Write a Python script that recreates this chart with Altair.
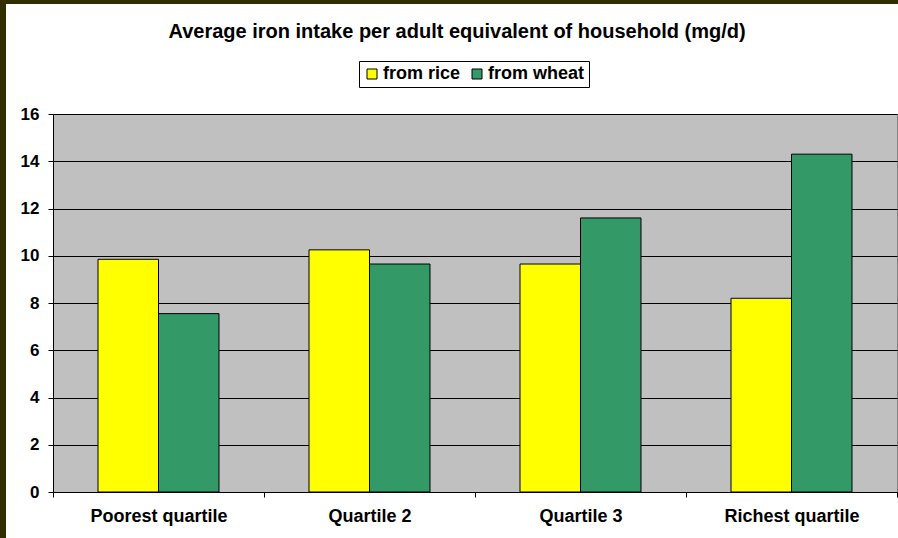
import altair as alt
import pandas as pd

# Average iron intake per adult equivalent, by income quartile
quartiles = ["Poorest quartile", "Quartile 2", "Quartile 3", "Richest quartile"]
series = ["from rice", "from wheat"]
from_rice = [9.85, 10.25, 9.65, 8.2]
from_wheat = [7.55, 9.65, 11.6, 14.3]
series_colors = ["#FFFF00", "#339966"]
y_ticks = [0, 2, 4, 6, 8, 10, 12, 14, 16]
title_text = "Average iron intake per adult equivalent of household (mg/d)"

rows = []
for q, r, w in zip(quartiles, from_rice, from_wheat):
    rows.append({"quartile": q, "source": series[0], "iron": r})
    rows.append({"quartile": q, "source": series[1], "iron": w})
df = pd.DataFrame(rows)

FONT = "Liberation Sans"
FRAME = "#302e00"
W, H = 844, 378

bars = alt.Chart(df).mark_bar(stroke="black", strokeWidth=1).encode(
    x=alt.X(
        "quartile:N",
        sort=quartiles,
        title=None,
        scale=alt.Scale(paddingInner=0, paddingOuter=0),
        axis=alt.Axis(
            labelAngle=0,
            labelFont=FONT,
            labelFontSize=18,
            labelFontWeight="bold",
            labelColor="black",
            labelPadding=10,
            tickBand="extent",
            tickSize=5,
            tickColor="black",
            domainColor="black",
            grid=False,
        ),
    ),
    xOffset=alt.XOffset(
        "source:N",
        sort=series,
        scale=alt.Scale(paddingInner=0, paddingOuter=0.744),
    ),
    y=alt.Y(
        "iron:Q",
        title=None,
        scale=alt.Scale(domain=[0, 16], nice=False),
        axis=alt.Axis(
            values=y_ticks,
            labelFont=FONT,
            labelFontSize=17,
            labelFontWeight="bold",
            labelColor="black",
            labelPadding=9,
            tickSize=5,
            tickColor="black",
            domainColor="black",
            gridColor="black",
            gridWidth=1,
            gridOpacity=1,
        ),
    ),
    color=alt.Color(
        "source:N",
        sort=series,
        scale=alt.Scale(domain=series, range=series_colors),
        legend=alt.Legend(
            title=None,
            orient="none",
            legendX=306,
            legendY=-53,
            direction="horizontal",
            symbolType="square",
            symbolSize=100,
            symbolStrokeColor="black",
            symbolStrokeWidth=1,
            symbolOpacity=1,
            labelFont=FONT,
            labelFontSize=18,
            labelFontWeight="bold",
            labelColor="black",
            labelOffset=2,
            columnPadding=7,
            padding=4,
            strokeColor="black",
            fillColor="white",
        ),
    ),
)

one = pd.DataFrame({"k": [0]})
# dark frame along the left and top edges of the figure
frame_left = alt.Chart(one).mark_rect(color=FRAME).encode(
    x=alt.value(-53), x2=alt.value(-47), y=alt.value(-114), y2=alt.value(H + 46)
)
frame_top = alt.Chart(one).mark_rect(color=FRAME).encode(
    x=alt.value(-53), x2=alt.value(W + 1), y=alt.value(-114), y2=alt.value(-110)
)

# chart heading, centred above the legend
heading = alt.Chart(one).mark_text(
    text=title_text,
    font=FONT,
    fontSize=20,
    fontWeight="bold",
    color="black",
    align="center",
    baseline="alphabetic",
).encode(x=alt.value(404), y=alt.value(-76))

chart = alt.layer(bars, frame_left, frame_top, heading).properties(
    width=W,
    height=H,
    padding={"left": 53, "top": 114, "right": 1, "bottom": 46},
    autosize=alt.AutoSizeParams(type="none"),
    background="white",
).configure_view(fill="#C0C0C0", stroke="#808080", strokeWidth=1)

chart.save("out.html", embed_options={"renderer": "svg", "actions": False})
